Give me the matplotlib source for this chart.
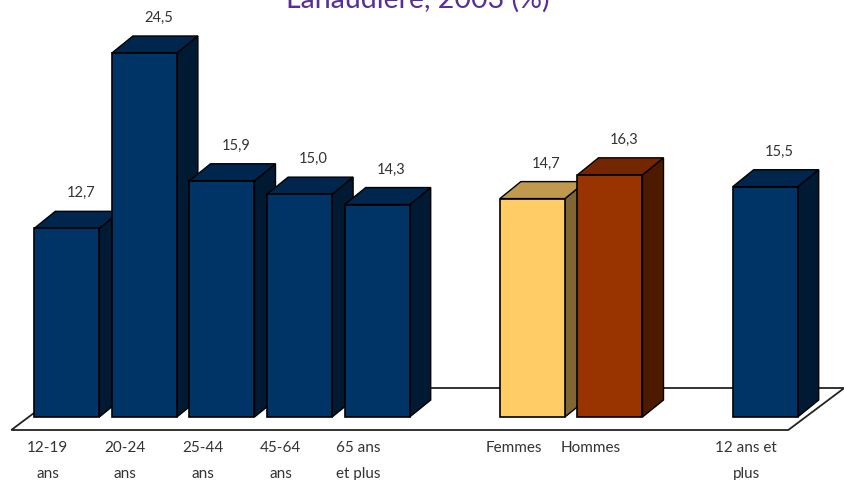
import matplotlib
matplotlib.use("Agg")
import matplotlib.pyplot as plt
from matplotlib.patches import Polygon

# ── Donnees ───────────────────────────────────────────────
labels = ["12-19\nans", "20-24\nans", "25-44\nans", "45-64\nans", "65 ans\net plus",
          "Femmes", "Hommes", "12 ans et\nplus"]
values = [12.7, 24.5, 15.9, 15.0, 14.3, 14.7, 16.3, 15.5]
value_labels = ["12,7", "24,5", "15,9", "15,0", "14,3", "14,7", "16,3", "15,5"]
slots = [0, 1, 2, 3, 4, 6, 7, 9]
fronts = ["#003366"] * 5 + ["#FFCC66", "#993300", "#003366"]
tops = ["#00264D"] * 5 + ["#BF994D", "#732600", "#00264D"]
sides = ["#001A33"] * 5 + ["#806633", "#4D1A00", "#001A33"]

# ── Echelles (pixels de l'image) ──────────────────────────
W, H = 845, 481
px_x = 77.6
px_y = 14.857
x0 = 66.8
y0 = 418
bar_w = 65 / px_x
dx = 21 / px_x
dy = 17 / px_y

plt.rcParams["font.family"] = ["Lato", "DejaVu Sans"]
fig = plt.figure(figsize=(W / 100, H / 100), dpi=100)
ax = fig.add_axes([0, 0, 1, 1])
ax.set_xlim(-x0 / px_x, (W - x0) / px_x)
ax.set_ylim((y0 - H) / px_y, y0 / px_y)
ax.axis("off")

# ── Plancher ──────────────────────────────────────────────
floor_x = [-55.5 / px_x, 721.5 / px_x, 777.5 / px_x, 0.5 / px_x]
floor_y = [-13 / px_y, -13 / px_y, 29 / px_y, 29 / px_y]
ax.add_patch(Polygon(list(zip(floor_x, floor_y)), closed=True, facecolor="white",
                     edgecolor="#222222", linewidth=1.3, zorder=1))

# ── Barres 3D ─────────────────────────────────────────────
for i, (s, v) in enumerate(zip(slots, values)):
    z = 2 + i
    left = s - bar_w / 2
    right = s + bar_w / 2
    ax.add_patch(Polygon([(right, 0), (right + dx, dy), (right + dx, v + dy), (right, v)],
                         closed=True, facecolor=sides[i], edgecolor="black", linewidth=1, zorder=z))
    ax.add_patch(Polygon([(left, v), (right, v), (right + dx, v + dy), (left + dx, v + dy)],
                         closed=True, facecolor=tops[i], edgecolor="black", linewidth=1, zorder=z))
    ax.bar(s, v, width=bar_w, color=fronts[i], edgecolor="black", linewidth=1.2, zorder=z)
    ax.text(s + 14 / px_x, v + 36 / px_y, value_labels[i], ha="center", va="center",
            fontsize=10.5, color="#333333", zorder=20)

# ── Etiquettes ────────────────────────────────────────────
for s, lab in zip(slots, labels):
    parts = lab.split("\n")
    for j, part in enumerate(parts):
        ax.text(s - 19 / px_x, (-30 - 26 * j) / px_y, part, ha="center", va="center",
                fontsize=11, color="#333333")

# ── Titre (coupe en haut comme l'original) ────────────────
ax.text((418 - x0) / px_x, (y0 - 8) / px_y, "Lanaudière, 2003 (%)", ha="center", va="baseline",
        fontsize=20.5, color="#5A2E96", clip_on=False)

fig.savefig("out.png", dpi=100)
